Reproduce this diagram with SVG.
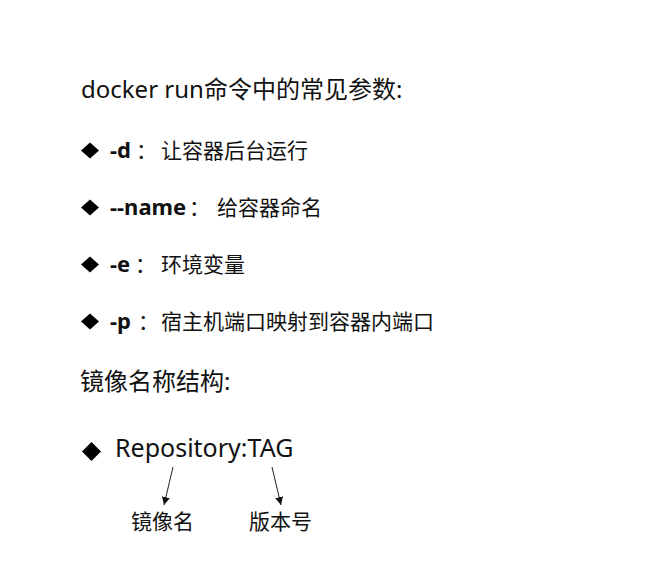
<svg xmlns="http://www.w3.org/2000/svg" width="649" height="562" viewBox="0 0 649 562">
<style>
  text { font-family: "Noto Sans", "Noto Sans CJK SC", sans-serif; fill: #111; }
  .h { font-size: 24px; }
  .r { font-size: 25px; }
  .b { font-size: 21px; }
  .k { font-weight: bold; font-size: 22px; }
  .d { fill: #000; }
  .c { stroke: #222; stroke-width: 1; fill: none; }
</style>
<defs>
  <marker id="ah" viewBox="0 0 10 10" refX="10" refY="5" markerWidth="8" markerHeight="8" markerUnits="userSpaceOnUse" orient="auto">
    <path d="M0,0 L10,5 L0,10 z" fill="#111"/>
  </marker>
</defs>
<rect width="649" height="562" fill="#fff"/>

<g id="title"><text class="h" x="81" y="98">docker run命令中的常见参数:</text></g>

<g id="opt-d">
  <polygon class="d" points="90,142.5 99,150.5 90,158.5 81,150.5"/>
  <text class="b" y="158"><tspan class="k" x="110">-d</tspan><tspan x="136">：</tspan><tspan x="161">让容器后台运行</tspan></text>
</g>
<g id="opt-name">
  <polygon class="d" points="90,199.5 99,207.5 90,215.5 81,207.5"/>
  <text class="b" y="215"><tspan class="k" x="110">--name</tspan><tspan x="189">：</tspan><tspan x="217">给容器命名</tspan></text>
</g>
<g id="opt-e">
  <polygon class="d" points="90,256.5 99,264.5 90,272.5 81,264.5"/>
  <text class="b" y="272"><tspan class="k" x="110">-e</tspan><tspan x="135">：</tspan><tspan x="161">环境变量</tspan></text>
</g>
<g id="opt-p">
  <polygon class="d" points="90,313.5 99,321.5 90,329.5 81,321.5"/>
  <text class="b" y="329"><tspan class="k" x="110">-p</tspan><tspan x="138">：</tspan><tspan x="161">宿主机端口映射到容器内端口</tspan></text>
</g>

<g id="image-title"><text class="h" x="80" y="390">镜像名称结构:</text></g>

<g id="repo">
  <polygon class="d" points="91.5,442 101,451.5 91.5,461 82,451.5"/>
  <text class="r" x="115" y="457">Repository:TAG</text>
</g>
<g id="label-name"><text class="b" x="131" y="529">镜像名</text></g>
<g id="label-tag"><text class="b" x="249" y="529">版本号</text></g>

<g id="connectors">
  <line class="c" x1="173" y1="467" x2="164" y2="505" marker-end="url(#ah)"/>
  <line class="c" x1="272" y1="467" x2="281" y2="505" marker-end="url(#ah)"/>
</g>
</svg>
